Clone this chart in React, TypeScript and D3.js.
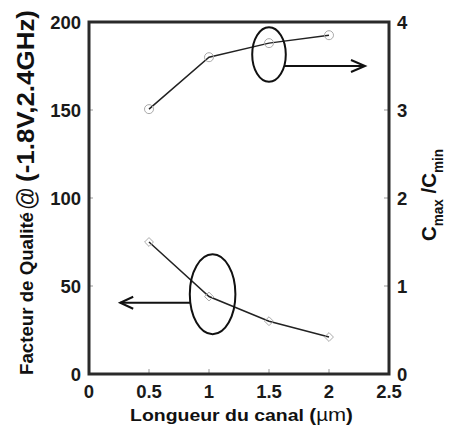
import React from "react";
import * as d3 from "d3";

// Data
const lengths = [0.5, 1.0, 1.5, 2.0];
const ratioCmaxCmin = [3.01, 3.6, 3.76, 3.85]; // right axis
const qualityFactor = [75, 44, 30, 21]; // left axis
const xTicks = [0, 0.5, 1, 1.5, 2, 2.5];
const xTickLabels = ["0", "0.5", "1", "1.5", "2", "2.5"];
const yLeftTicks = [0, 50, 100, 150, 200];
const yRightTicks = [0, 1, 2, 3, 4];

// annotations (data units): ellipse center + radii, arrow from ellipse edge to tip
const ratioEllipse = { cx: 1.5, cy: 3.63, rx: 0.14, ry: 0.31, arrowY: 3.5, arrowTip: 2.3 };
const qualityEllipse = { cx: 1.03, cy: 45.3, rx: 0.19, ry: 22.7, arrowY: 40.5, arrowTip: 0.26 };

const W = 449;
const H = 428;
const FONT = "'Liberation Sans', Arial, Helvetica, sans-serif";

export default function App() {
  const x = d3.scaleLinear().domain([0, 2.5]).range([89, 389]);
  const yL = d3.scaleLinear().domain([0, 200]).range([374, 22]);
  const yR = d3.scaleLinear().domain([0, 4]).range([374, 22]);

  const lineR = d3
    .line<number>()
    .x((_, i) => x(lengths[i]))
    .y((d) => yR(d));
  const lineL = d3
    .line<number>()
    .x((_, i) => x(lengths[i]))
    .y((d) => yL(d));

  const diamond = d3.symbol().type(d3.symbolDiamond2).size(50)();

  // top ellipse
  const e1cx = x(ratioEllipse.cx);
  const e1cy = yR(ratioEllipse.cy);
  const e1rx = x(ratioEllipse.cx + ratioEllipse.rx) - e1cx;
  const e1ry = yR(ratioEllipse.cy - ratioEllipse.ry) - e1cy;
  const a1y = yR(ratioEllipse.arrowY);
  const a1x0 = e1cx + e1rx * Math.sqrt(Math.max(0, 1 - ((a1y - e1cy) / e1ry) ** 2));
  const a1x1 = x(ratioEllipse.arrowTip);

  // bottom ellipse
  const e2cx = x(qualityEllipse.cx);
  const e2cy = yL(qualityEllipse.cy);
  const e2rx = x(qualityEllipse.cx + qualityEllipse.rx) - e2cx;
  const e2ry = yL(qualityEllipse.cy - qualityEllipse.ry) - e2cy;
  const a2y = yL(qualityEllipse.arrowY);
  const a2x0 = e2cx - e2rx * Math.sqrt(Math.max(0, 1 - ((a2y - e2cy) / e2ry) ** 2));
  const a2x1 = x(qualityEllipse.arrowTip);

  const tickColor = "#999";

  return (
    <svg
      width={W}
      height={H}
      style={{ position: "absolute", left: 0, top: 0, background: "#fff", fontFamily: FONT }}
    >
      {/* ticks */}
      {yLeftTicks.slice(1, -1).map((t) => (
        <line key={"lt" + t} x1={x(0)} x2={x(0) + 4} y1={yL(t)} y2={yL(t)} stroke={tickColor} strokeWidth={1} />
      ))}
      {yRightTicks.slice(1, -1).map((t) => (
        <line key={"rt" + t} x1={x(2.5)} x2={x(2.5) - 5} y1={yR(t)} y2={yR(t)} stroke={tickColor} strokeWidth={1} />
      ))}
      {xTicks.slice(1, -1).map((t) => (
        <line key={"bt" + t} x1={x(t)} x2={x(t)} y1={yL(0)} y2={yL(0) - 5} stroke={tickColor} strokeWidth={1} />
      ))}

      {/* frame */}
      <rect x={x(0)} y={yL(200)} width={x(2.5) - x(0)} height={yL(0) - yL(200)} fill="none" stroke="#2a2a2a" strokeWidth={3} />

      {/* series lines */}
      <path d={lineR(ratioCmaxCmin) || ""} fill="none" stroke="#222" strokeWidth={1.5} />
      <path d={lineL(qualityFactor) || ""} fill="none" stroke="#222" strokeWidth={1.5} />

      {/* markers */}
      {ratioCmaxCmin.map((v, i) => (
        <circle key={"c" + i} cx={x(lengths[i])} cy={yR(v)} r={4.5} fill="none" stroke="#aaa" strokeWidth={1} />
      ))}
      {qualityFactor.map((v, i) => (
        <path key={"d" + i} d={diamond || ""} transform={`translate(${x(lengths[i])},${yL(v)})`} fill="none" stroke="#aaa" strokeWidth={1} />
      ))}

      {/* annotations */}
      <ellipse cx={e1cx} cy={e1cy} rx={e1rx} ry={e1ry} fill="none" stroke="#111" strokeWidth={2} />
      <line x1={a1x0} x2={a1x1} y1={a1y} y2={a1y} stroke="#111" strokeWidth={2} />
      <path d={`M${a1x1 - 14},${a1y - 6}L${a1x1},${a1y}L${a1x1 - 14},${a1y + 6}`} fill="none" stroke="#111" strokeWidth={2} />

      <ellipse cx={e2cx} cy={e2cy} rx={e2rx} ry={e2ry} fill="none" stroke="#111" strokeWidth={2} />
      <line x1={a2x0} x2={a2x1} y1={a2y} y2={a2y} stroke="#111" strokeWidth={2} />
      <path d={`M${a2x1 + 13},${a2y - 6}L${a2x1},${a2y}L${a2x1 + 13},${a2y + 6}`} fill="none" stroke="#111" strokeWidth={2} />

      {/* tick labels */}
      {yLeftTicks.map((t) => (
        <text key={"ll" + t} x={81} y={yL(t)} dy="0.36em" textAnchor="end" fontSize={18.5} fontWeight="bold" fill="#1a1a1a">
          {t}
        </text>
      ))}
      {yRightTicks.map((t) => (
        <text key={"rl" + t} x={397} y={yR(t)} dy="0.36em" textAnchor="start" fontSize={18.5} fontWeight="bold" fill="#1a1a1a">
          {t}
        </text>
      ))}
      {xTicks.map((t, i) => (
        <text key={"xl" + t} x={x(t)} y={398} textAnchor="middle" fontSize={18.5} fontWeight="bold" fill="#1a1a1a">
          {xTickLabels[i]}
        </text>
      ))}

      {/* x axis title */}
      <text x={130} y={421} fontSize={17} fontWeight="bold" fill="#111" textLength={223} lengthAdjust="spacingAndGlyphs">
        Longueur du canal{" "}
        <tspan fontSize={18}>(</tspan>
        <tspan fontSize={18} fontWeight="normal">µ</tspan>
        <tspan fontSize={19} fontWeight="normal">m</tspan>
        <tspan fontSize={18}>)</tspan>
      </text>

      {/* left y axis title */}
      <g transform="translate(33,375) rotate(-90)">
        <text x={0} y={0} fontSize={18} fontWeight="bold" fill="#111" textLength={163} lengthAdjust="spacingAndGlyphs">
          Facteur de Qualité
        </text>
        <text x={165} y={2} fontSize={25} fill="#111" textLength={23} lengthAdjust="spacingAndGlyphs">
          @
        </text>
        <text x={193} y={1} fontSize={23} fontWeight="bold" fill="#111" textLength={172} lengthAdjust="spacingAndGlyphs">
          (-1.8V,2.4GHz)
        </text>
      </g>

      {/* right y axis title */}
      <g transform="translate(436,241) rotate(-90)">
        <text x={0} y={0} fontSize={21} fontWeight="bold" fill="#111" textLength={92} lengthAdjust="spacingAndGlyphs">
          C
          <tspan fontSize={14} dy={7}>max</tspan>
          <tspan fontSize={21} dy={-7}> /C</tspan>
          <tspan fontSize={14} dy={7}>min</tspan>
        </text>
      </g>
    </svg>
  );
}
